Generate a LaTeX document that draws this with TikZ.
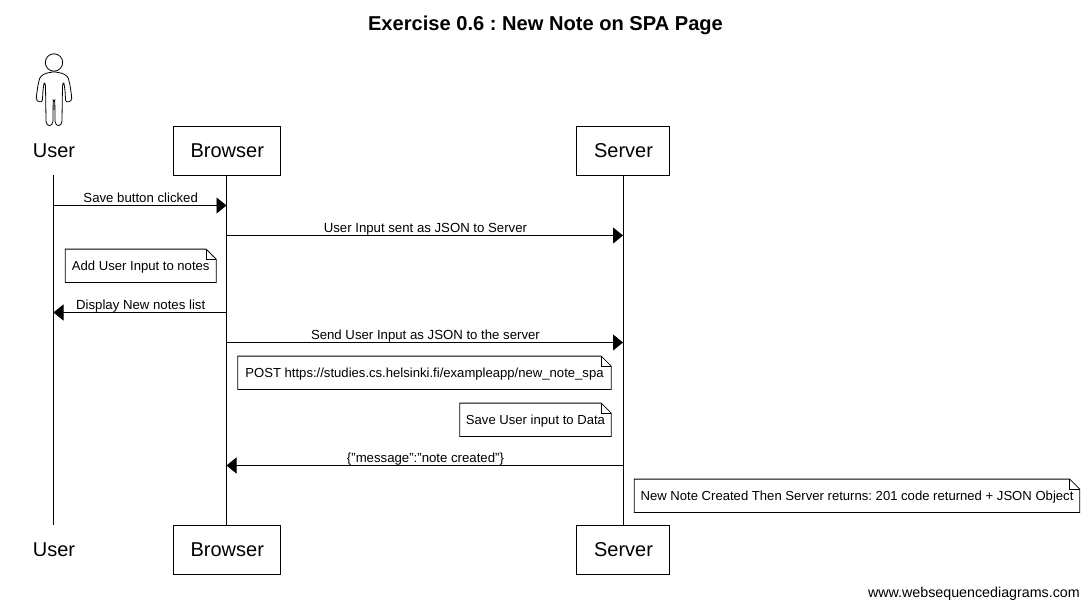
\documentclass[tikz,border=0pt]{standalone}
\usepackage{fontspec}
\setmainfont{Liberation Sans}
\frenchspacing
\usetikzlibrary{arrows.meta}

\tikzset{
    actor/.style={minimum height=49pt, inner sep=0pt, font=\fontsize{20}{24}\selectfont},
    actorbox/.style={actor, draw, line width=0.8pt},
    lifeline/.style={line width=0.9pt},
    message/.style={line width=0.9pt, -{Triangle[length=10pt,width=16pt]}},
    msglabel/.style={above, inner sep=0pt, text depth=0pt, xshift=0.7pt, yshift=2.6pt, font=\fontsize{13.2}{15}\selectfont},
    notetext/.style={inner sep=0pt, minimum height=33pt, text height=10pt, text depth=0pt, font=\fontsize{13.1}{15}\selectfont}
}

\begin{document}
\begin{tikzpicture}[x=1pt, y=-1pt]
    \useasboundingbox (0, 0) rectangle (1089, 608);

    \node[font=\bfseries\fontsize{20.1}{24}\selectfont] (title) at (545.5, 25) {Exercise 0.6 : New Note on SPA Page};

    % stick figure
    \draw[line width=0.8pt] (54, 62.5) circle (8.7);
    \draw[line width=0.8pt, rounded corners=1.5pt] (54, 71.7) -- (63, 73.5) -- (68, 77) -- (70, 85) -- (71.7, 97)
        .. controls (71.7, 102) and (66, 103) .. (65.5, 99) -- (65, 90) -- (63.7, 81.7) -- (62.5, 85) -- (62, 120)
        .. controls (61.5, 127) and (55.5, 127) .. (55, 120) -- (54.8, 100) -- (53.2, 100) -- (53, 120)
        .. controls (52.5, 127) and (46.5, 127) .. (46, 120) -- (45.5, 85) -- (44.3, 81.7) -- (43, 90) -- (42.5, 99)
        .. controls (42, 103) and (36.3, 102) .. (36.3, 97) -- (38, 85) -- (40, 77) -- (45, 73.5) -- cycle;

    % actors
    \node[actor] (usertop) at (53.5, 150.5) {\hspace{1pt}User};
    \node[actorbox, minimum width=107pt] (browsertop) at (226.5, 150.5) {\hspace{1.5pt}Browser};
    \node[actorbox, minimum width=93pt] (servertop) at (623, 150.5) {\hspace{1pt}Server};
    \node[actor] (userbot) at (53.5, 549.5) {\hspace{1pt}User};
    \node[actorbox, minimum width=107pt] (browserbot) at (226.5, 549.5) {\hspace{1.5pt}Browser};
    \node[actorbox, minimum width=93pt] (serverbot) at (623, 549.5) {\hspace{1pt}Server};

    \draw[lifeline] (usertop.south) -- (userbot.north);
    \draw[lifeline] (browsertop.south) -- (browserbot.north);
    \draw[lifeline] (servertop.south) -- (serverbot.north);

    % messages
    \coordinate (u1) at (53.5, 205.5);
    \coordinate (b1) at (226.5, 205.5);
    \coordinate (b2) at (226.5, 235.5);
    \coordinate (s2) at (623, 235.5);
    \coordinate (b3) at (226.5, 312.5);
    \coordinate (u3) at (53.5, 312.5);
    \coordinate (b4) at (226.5, 342.5);
    \coordinate (s4) at (623, 342.5);
    \coordinate (s5) at (623, 465.5);
    \coordinate (b5) at (226.5, 465.5);

    \draw[message] (u1) -- (b1) node[msglabel, midway] (m1) {Save button clicked};
    \draw[message] (b2) -- (s2) node[msglabel, midway] (m2) {User Input sent as JSON to Server};
    \draw[message] (b3) -- (u3) node[msglabel, midway] (m3) {Display New notes list};
    \draw[message] (b4) -- (s4) node[msglabel, midway] (m4) {Send User Input as JSON to the server};
    \draw[message] (s5) -- (b5) node[msglabel, midway] (m5) {\{"message":"note created"\}};

    % notes
    \node[notetext, minimum width=150.5pt] (note1) at (140.7, 265.8) {Add User Input to notes};
    \node[notetext, minimum width=373pt] (note2) at (424.5, 372.8) {POST https://studies.cs.helsinki.fi/exampleapp/new\_note\_spa};
    \node[notetext, minimum width=151pt] (note3) at (535.5, 419.8) {Save User input to Data};
    \node[notetext, minimum width=445pt] (note4) at (857, 495.8) {New Note Created Then Server returns: 201 code returned + JSON Object};
    \foreach \n in {note1, note2, note3, note4} {
        \draw[line width=0.8pt] (\n.south west) -- (\n.north west) -- ([xshift=-10pt]\n.north east)
            -- ([yshift=-10pt]\n.north east) -- (\n.south east) -- cycle;
        \draw[line width=0.5pt] ([xshift=-10pt]\n.north east) -- ([xshift=-10pt, yshift=-10pt]\n.north east) -- ([yshift=-10pt]\n.north east);
    }

    \node[anchor=east, inner sep=0pt, font=\fontsize{14.27}{16}\selectfont] (credit) at (1080, 594) {www.websequencediagrams.com};
\end{tikzpicture}
\end{document}
